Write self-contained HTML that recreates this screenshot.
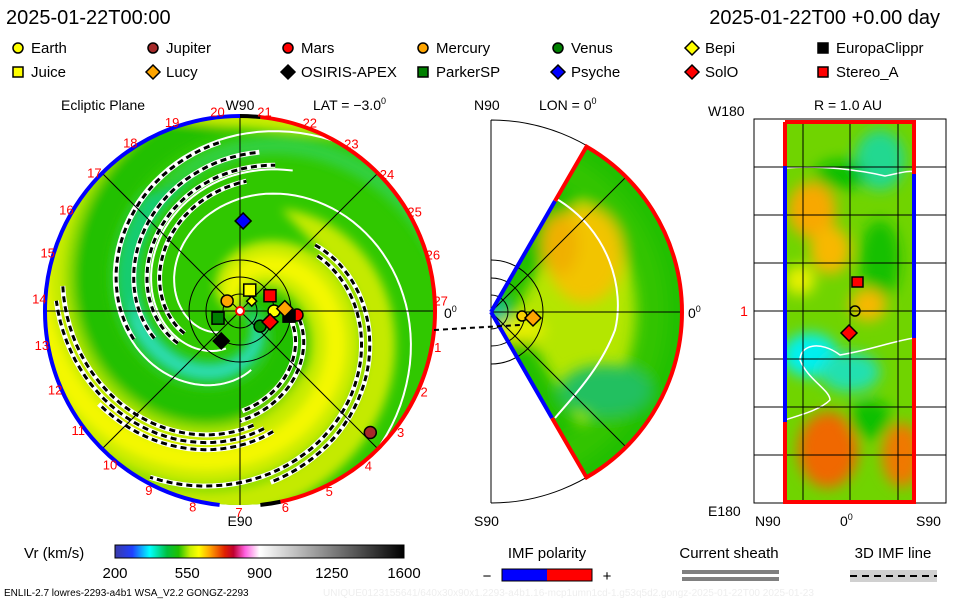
<!DOCTYPE html>
<html><head><meta charset="utf-8"><style>
html,body{margin:0;padding:0;background:#fff;}
svg{display:block;font-family:"Liberation Sans",sans-serif;}
</style></head><body>
<svg id="chart" width="960" height="600" viewBox="0 0 960 600">
<defs>
<clipPath id="diskClip"><circle cx="240" cy="311" r="194"/></clipPath>
<clipPath id="wedgeClip"><path d="M491,312 L586.5,146.6 A191,191 0 0 1 586.5,477.4 Z"/></clipPath>
<clipPath id="rectClip"><rect x="785" y="122" width="129" height="380"/></clipPath>
<filter id="blur6"><feGaussianBlur stdDeviation="7"/></filter>
<filter id="blur3"><feGaussianBlur stdDeviation="5"/></filter>
<linearGradient id="cbar" x1="0" x2="1" y1="0" y2="0">
<stop offset="0" stop-color="#3a3aa8"/><stop offset="0.06" stop-color="#2040ff"/>
<stop offset="0.12" stop-color="#00ffff"/><stop offset="0.18" stop-color="#00c040"/>
<stop offset="0.22" stop-color="#20c000"/><stop offset="0.26" stop-color="#c8f000"/>
<stop offset="0.29" stop-color="#ffff00"/><stop offset="0.33" stop-color="#ffa000"/>
<stop offset="0.38" stop-color="#e02000"/><stop offset="0.41" stop-color="#c00030"/>
<stop offset="0.45" stop-color="#ff60e0"/><stop offset="0.50" stop-color="#ffffff"/>
<stop offset="1" stop-color="#000000"/>
</linearGradient>
</defs>

<text x="6" y="24" font-size="20">2025-01-22T00:00</text>
<text x="940" y="24" font-size="20" text-anchor="end">2025-01-22T00 +0.00 day</text>
<g id="legend"></g>

<text x="61" y="110" font-size="14">Ecliptic Plane</text>
<text x="240" y="110" font-size="14" text-anchor="middle">W90</text>
<text x="313" y="110" font-size="14">LAT = −3.0<tspan font-size="9" dy="-6">0</tspan></text>
<text x="240" y="526" font-size="14" text-anchor="middle">E90</text>
<text x="444" y="318" font-size="14">0<tspan font-size="9" dy="-6">0</tspan></text>
<g id="disk">
  <circle cx="240" cy="311" r="194" fill="#30c800"/>
  <g clip-path="url(#diskClip)" id="diskBands"></g>
</g>
<g id="diskOverlay"></g>

<text x="474" y="110" font-size="14">N90</text>
<text x="539" y="110" font-size="14">LON = 0<tspan font-size="9" dy="-6">0</tspan></text>
<text x="474" y="526" font-size="14">S90</text>
<text x="688" y="318" font-size="14">0<tspan font-size="9" dy="-6">0</tspan></text>
<g>
  <path d="M491,120 L491,503 M491,120 A191,191 0 0 1 491,503" fill="none" stroke="#000" stroke-width="1"/>
  <path d="M491,312 L586.5,146.6 A191,191 0 0 1 586.5,477.4 Z" fill="#b4e600"/>
  <g clip-path="url(#wedgeClip)">
    <g filter="url(#blur6)">
      <path d="M491,312 L586.5,146.6 A191,191 0 0 1 586.5,477.4 Z" fill="none" stroke="#22c000" stroke-width="40"/>
      <circle cx="491" cy="312" r="160" fill="none" stroke="#30c400" stroke-width="30"/>
      <ellipse cx="585" cy="255" rx="38" ry="48" fill="#f2c400"/>
      <ellipse cx="560" cy="245" rx="18" ry="30" fill="#f0b000"/>
      <ellipse cx="605" cy="390" rx="45" ry="25" fill="#20c060"/>
      <ellipse cx="520" cy="330" rx="25" ry="12" fill="#e8f000"/>
      <circle cx="497" cy="312" r="10" fill="#10c0a0"/>
    </g>
    <path d="M555,198 C610,230 625,290 615,330 C600,370 570,400 555,418" fill="none" stroke="#fff" stroke-width="2"/>
  </g>
  <g fill="none" stroke="#000" stroke-width="1">
    <path d="M491,295 A17,17 0 0 1 491,329"/><path d="M491,278 A34,34 0 0 1 491,346"/><path d="M491,260 A52,52 0 0 1 491,364"/>
    <line x1="491" y1="312" x2="682" y2="312"/>
    <line x1="491" y1="312" x2="626" y2="177"/>
    <line x1="491" y1="312" x2="626" y2="447"/>
  </g>
  <path d="M491,312 L555,201" stroke="#0000ff" stroke-width="4" fill="none"/>
  <path d="M555,201 L586.5,146.6 A191,191 0 0 1 586.5,477.4 L552,418" stroke="#ff0000" stroke-width="4" fill="none"/>
  <path d="M491,312 L552,418" stroke="#0000ff" stroke-width="4" fill="none"/>
  <line x1="434" y1="330" x2="520" y2="325" stroke="#000" stroke-width="2" stroke-dasharray="5,4"/>
  <circle cx="522" cy="316" r="5" fill="#f8d000" stroke="#000" stroke-width="1.5"/>
  <path d="M533,310 L541,318 L533,326 L525,318 Z" fill="#ffa500" stroke="#000" stroke-width="1.5"/>
</g>

<text x="848" y="110" font-size="14" text-anchor="middle">R = 1.0 AU</text>
<text x="708" y="116" font-size="14">W180</text>
<text x="708" y="516" font-size="14">E180</text>
<text x="755" y="526" font-size="14">N90</text>
<text x="840" y="526" font-size="14">0<tspan font-size="9" dy="-6">0</tspan></text>
<text x="916" y="526" font-size="14">S90</text>
<text x="744" y="316" font-size="14" fill="#ff0000" text-anchor="middle">1</text>
<g>
  <rect x="754" y="119" width="192" height="384" fill="#fff" stroke="#000"/>
  <rect x="785" y="122" width="129" height="380" fill="#70d400"/>
  <g clip-path="url(#rectClip)"><g filter="url(#blur6)">
    <ellipse cx="880" cy="160" rx="25" ry="30" fill="#20d890"/>
    <ellipse cx="812" cy="210" rx="24" ry="28" fill="#f8a800"/>
    <ellipse cx="830" cy="250" rx="20" ry="24" fill="#f8b800"/>
    <ellipse cx="800" cy="280" rx="15" ry="15" fill="#e8f000"/>
    <ellipse cx="880" cy="260" rx="20" ry="40" fill="#18c000"/>
    <ellipse cx="868" cy="305" rx="18" ry="16" fill="#f8b800"/>
    <ellipse cx="810" cy="355" rx="28" ry="22" fill="#00f0f0"/>
    <ellipse cx="850" cy="372" rx="30" ry="20" fill="#20e0b0"/>
    <ellipse cx="828" cy="450" rx="30" ry="38" fill="#f06800"/>
    <ellipse cx="902" cy="455" rx="20" ry="32" fill="#f07800"/>
    <ellipse cx="840" cy="175" rx="25" ry="15" fill="#10c000"/>
    <ellipse cx="870" cy="420" rx="22" ry="20" fill="#10c000"/>
  </g>
  <path d="M785,168 C820,165 860,170 885,176 C900,173 910,170 914,172" fill="none" stroke="#fff" stroke-width="1.5"/>
  <path d="M914,338 C890,342 870,350 840,355 C820,340 800,345 800,360 C808,380 830,390 830,400 C820,410 800,415 785,420" fill="none" stroke="#fff" stroke-width="1.5"/>
  </g>
  <g id="gridLines" stroke="#000" stroke-width="1"></g>
  <path d="M785,122 L785,166 M785,422 L785,502 L914,502 L914,338 M914,174 L914,122 L785,122" fill="none" stroke="#ff0000" stroke-width="4"/>
  <path d="M785,166 L785,422 M914,174 L914,338" fill="none" stroke="#0000ff" stroke-width="4"/>
  <rect x="852" y="277" width="11" height="10" fill="#ff0000" stroke="#000" stroke-width="1.5"/>
  <circle cx="855" cy="311" r="5" fill="none" stroke="#000" stroke-width="1.5"/>
  <path d="M849,325 L857,333 L849,341 L841,333 Z" fill="#ff0000" stroke="#000" stroke-width="1.5"/>
</g>

<text x="24" y="558" font-size="15">Vr (km/s)</text>
<rect x="115" y="545" width="289" height="13" fill="url(#cbar)" stroke="#000"/>
<g id="cbTicks" font-size="15" text-anchor="middle"></g>
<text x="547" y="558" font-size="15" text-anchor="middle">IMF polarity</text>
<text x="487" y="581" font-size="15" text-anchor="middle">−</text>
<rect x="502" y="569" width="45" height="12" fill="#0000ff"/>
<rect x="547" y="569" width="45" height="12" fill="#ff0000"/>
<rect x="502" y="569" width="90" height="12" fill="none" stroke="#000"/>
<text x="607" y="581" font-size="15" text-anchor="middle">+</text>
<text x="729" y="558" font-size="15" text-anchor="middle">Current sheath</text>
<rect x="682" y="570" width="97" height="4" fill="#808080"/>
<rect x="682" y="577" width="97" height="4" fill="#808080"/>
<text x="893" y="558" font-size="15" text-anchor="middle">3D IMF line</text>
<rect x="850" y="570" width="87" height="12" fill="#d0d0d0"/>
<line x1="850" y1="576" x2="937" y2="576" stroke="#000" stroke-width="2" stroke-dasharray="7,5"/>
<text x="4" y="596" font-size="10">ENLIL-2.7 lowres-2293-a4b1 WSA_V2.2 GONGZ-2293</text>
<text x="323" y="596" font-size="10" fill="#eeeeee">UNIQUE0123155641/640x30x90x1.2293-a4b1.16-mcp1umn1cd-1.g53q5d2.gongz-2025-01-22T00    2025-01-23</text>
</svg>
<script>
// ---- data ----
const scNames = ["Earth","Jupiter","Mars","Mercury","Venus","Bepi","EuropaClippr","Juice","Lucy","OSIRIS-APEX","ParkerSP","Psyche","SolO","Stereo_A"];
const scR =   [1.00, 5.24, 1.68, 0.48, 0.74, 0.45, 1.45, 0.68, 1.32, 1.04, 0.68, 2.65, 0.94, 0.99];
const scLon = [0, -43, -4, 142, -37, 40, -6, 65, 3, -122, -162, 88, -20, 27];
const cbTickLabels = ["200","550","900","1250","1600"];
const cbTickValues = [200, 550, 900, 1250, 1600];
const rimNumbers = [1,2,3,4,5,6,7,8,9,10,11,12,13,14,15,16,17,18,19,20,21,22,23,24,25,26,27];

const sty = {
 "Earth":["circle","#ffff00"],"Jupiter":["circle","#a52a2a"],"Mars":["circle","#ff0000"],"Mercury":["circle","#ffa500"],
 "Venus":["circle","#008000"],"Bepi":["diamond","#ffff00"],"EuropaClippr":["square","#000000"],"Juice":["square","#ffff00"],
 "Lucy":["diamond","#ffa500"],"OSIRIS-APEX":["diamond","#000000"],"ParkerSP":["square","#008000"],"Psyche":["diamond","#0000ff"],
 "SolO":["diamond","#ff0000"],"Stereo_A":["square","#ff0000"]};
const NS="http://www.w3.org/2000/svg";
function mk(tag, attrs, parent){const e=document.createElementNS(NS,tag);for(const k in attrs)e.setAttribute(k,attrs[k]);parent.appendChild(e);return e;}
function marker(parent, shape, color, x, y, s){
  if(shape==="circle") return mk("circle",{cx:x,cy:y,r:s,fill:color,stroke:"#000","stroke-width":1.5},parent);
  if(shape==="square") return mk("rect",{x:x-s,y:y-s,width:2*s,height:2*s,fill:color,stroke:"#000","stroke-width":1.5},parent);
  return mk("path",{d:`M${x},${y-s-2} L${x+s+2},${y} L${x},${y+s+2} L${x-s-2},${y} Z`,fill:color,stroke:"#000","stroke-width":1.5},parent);
}
const legend=document.getElementById("legend");
const legOrder=["Earth","Jupiter","Mars","Mercury","Venus","Bepi","EuropaClippr","Juice","Lucy","OSIRIS-APEX","ParkerSP","Psyche","SolO","Stereo_A"];
const colX=[18,153,288,423,558,692,823];
legOrder.forEach((n,i)=>{
  const g=mk("g",{},legend);
  
  
  const x=colX[i%7], y=i<7?48:72;
  marker(g, sty[n][0], sty[n][1], x, y, 5);
  const t=mk("text",{x:x+13,y:y+5,"font-size":15},g); t.textContent=n;
});

const CX=240, CY=311, PXAU=34, PXRAD=35;
function xOf(r,lonDeg){return CX + r*PXAU*Math.cos(lonDeg*Math.PI/180);}
function yOf(r,lonDeg){return CY - r*PXAU*Math.sin(lonDeg*Math.PI/180);}
function spiralPt(th0,rpx){const t=th0*Math.PI/180 - rpx/PXRAD;return [CX+rpx*Math.cos(t), CY-rpx*Math.sin(t)];}
function spiralPath(th0,r1,r2){let d="";for(let r=r1;r<=r2;r+=2){const p=spiralPt(th0,r);d+=(d?"L":"M")+p[0].toFixed(1)+","+p[1].toFixed(1);}return d;}
function bandPath(th0,w,r1,r2){let a=[],b=[];for(let r=r1;r<=r2;r+=3){a.push(spiralPt(th0+w/2,r));b.push(spiralPt(th0-w/2,r));}
  return "M"+a.concat(b.reverse()).map(p=>p[0].toFixed(1)+","+p[1].toFixed(1)).join("L")+"Z";}
const bands=document.getElementById("diskBands");
const bandG=mk("g",{filter:"url(#blur3)"},bands);
mk("path",{d:bandPath(60,60,0,260),fill:"#22c000"},bandG);
mk("path",{d:bandPath(115,60,100,260),fill:"#8cdc00"},bandG);
mk("path",{d:bandPath(223,50,110,260),fill:"#c4ea00"},bandG);
mk("path",{d:bandPath(147,90,0,260),fill:"#c8ec00"},bandG);
mk("path",{d:bandPath(147,35,0,260),fill:"#f4f800"},bandG);
mk("path",{d:bandPath(-5,40,0,150),fill:"#18cc70"},bandG);
mk("path",{d:bandPath(-5,18,15,110),fill:"#30e0b8"},bandG);
mk("path",{d:bandPath(-5,30,150,230),fill:"#30d040"},bandG);
[[274,30,200],[19,60,200],[315,40,150]].forEach(s=>mk("path",{d:spiralPath(s[0],s[1],s[2]),fill:"none",stroke:"#fff","stroke-width":2},bands));
[[322,70,150],[300,60,130],[345,90,160],[15,110,170],[191,95,190],[205,100,175],[105,115,180],[118,120,185],[130,125,170],[90,60,110],[75,50,100]].forEach(s=>{
  const d=spiralPath(s[0],s[1],s[2]);
  mk("path",{d:d,fill:"none",stroke:"#fff","stroke-width":5},bands);
  mk("path",{d:d,fill:"none",stroke:"#000","stroke-width":3,"stroke-dasharray":"6,4"},bands);
});
const ov=document.getElementById("diskOverlay");
[[CX,117,CX,505],[46,CY,434,CY],[103,174,377,448],[103,448,377,174]].forEach(l=>mk("line",{x1:l[0],y1:l[1],x2:l[2],y2:l[3],stroke:"#000","stroke-width":1},ov));
[0.5,1,1.5].forEach(r=>mk("circle",{cx:CX,cy:CY,r:r*PXAU,fill:"none",stroke:"#000","stroke-width":1},ov));
function arc(a1,a2,R){const p1=[CX+R*Math.cos(a1*Math.PI/180),CY-R*Math.sin(a1*Math.PI/180)],p2=[CX+R*Math.cos(a2*Math.PI/180),CY-R*Math.sin(a2*Math.PI/180)];
  const large=Math.abs(a2-a1)>180?1:0;const sweep=a2>a1?0:1;return `M${p1[0]},${p1[1]} A${R},${R} 0 ${large} ${sweep} ${p2[0]},${p2[1]}`;}
mk("path",{d:arc(90,264,195),fill:"none",stroke:"#0000ff","stroke-width":4},ov);
mk("path",{d:arc(84,-78,195),fill:"none",stroke:"#ff0000","stroke-width":4},ov);
mk("path",{d:arc(90,84,195),fill:"none",stroke:"#000","stroke-width":4},ov);
mk("path",{d:arc(-78,-84,195),fill:"none",stroke:"#000","stroke-width":4},ov);
rimNumbers.forEach(n=>{
  const a=(83-((n-21+27)%27)*13.33)*Math.PI/180;
  const t=mk("text",{x:(CX+201*Math.cos(a)).toFixed(1),y:(CY-201*Math.sin(a)+5).toFixed(1),"font-size":13,fill:"#ff0000","text-anchor":"middle"},ov);
  
  
  t.textContent=n;
});
mk("circle",{cx:CX,cy:CY,r:4,fill:"#fff",stroke:"#ff0000","stroke-width":2},ov);
scNames.forEach((n,i)=>{
  const m=marker(ov, sty[n][0], sty[n][1], xOf(scR[i],scLon[i]), yOf(scR[i],scLon[i]), n==="Bepi"?3:6);
  
  
});
const gl=document.getElementById("gridLines");
[803,850,898].forEach(x=>mk("line",{x1:x,y1:122,x2:x,y2:502},gl));
[167,215,263,311,359,407,455].forEach(y=>mk("line",{x1:754,y1:y,x2:946,y2:y},gl));
const cbt=document.getElementById("cbTicks");
function cbX(v){return 115+(v-200)/(1600-200)*289;}
cbTickValues.forEach((v,i)=>{
  const t=mk("text",{x:cbX(v),y:578},cbt);
  
  
  t.textContent=cbTickLabels[i];
});
</script>
</body></html>
